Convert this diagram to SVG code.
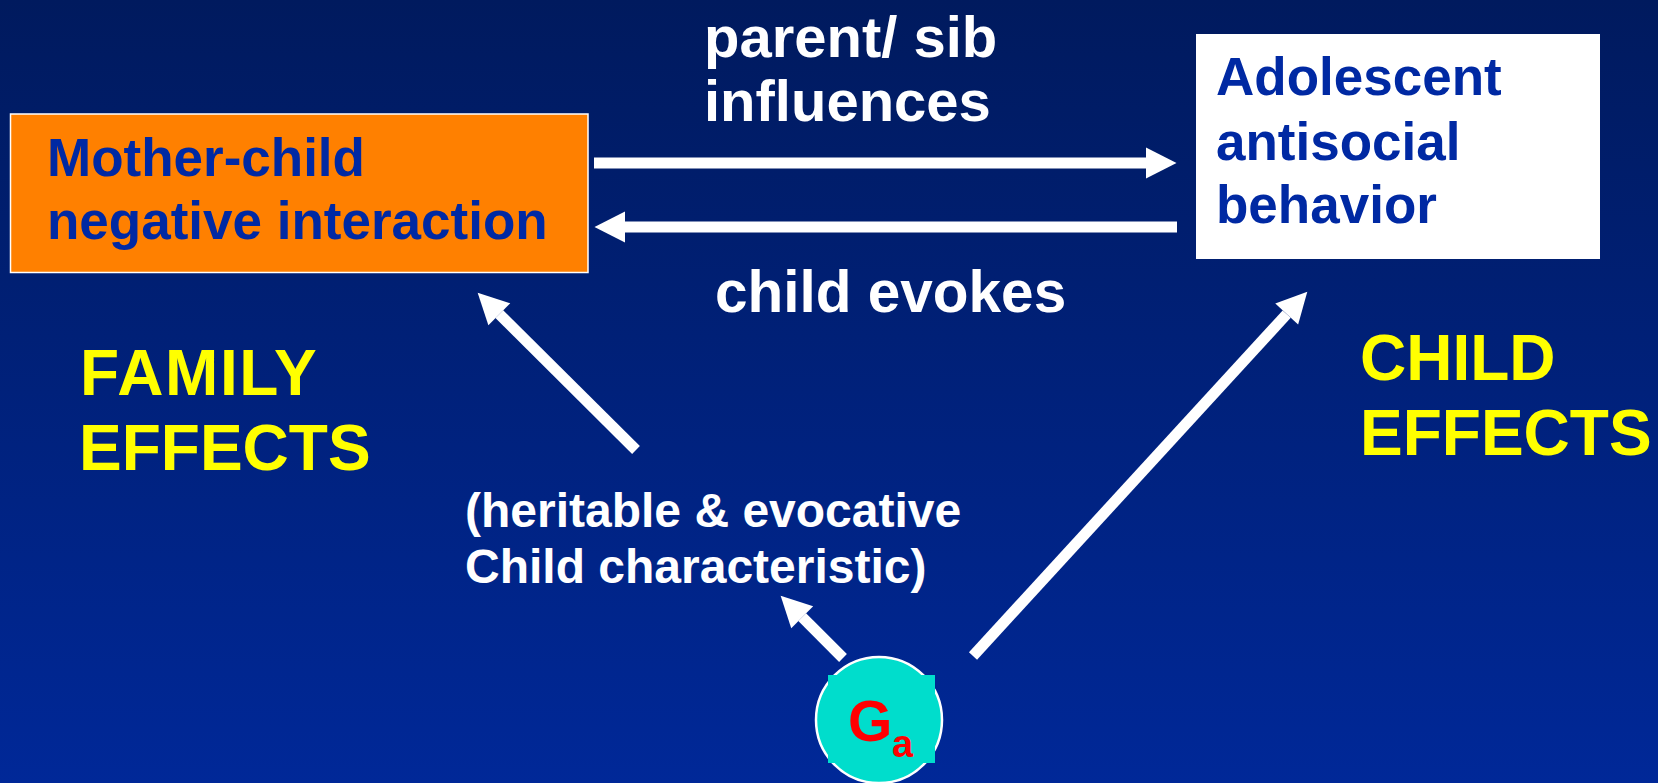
<svg xmlns="http://www.w3.org/2000/svg" width="1658" height="783" viewBox="0 0 1658 783">
  <defs>
    <linearGradient id="bg" x1="0" y1="0" x2="0" y2="1">
      <stop offset="0" stop-color="#001A5E"/>
      <stop offset="1" stop-color="#002898"/>
    </linearGradient>
    <marker id="head" viewBox="0 -16 31 32" refX="0" refY="0" markerWidth="31" markerHeight="32" markerUnits="userSpaceOnUse" orient="auto" overflow="visible">
      <path d="M0,-15.5 L30.5,0 L0,15.5 Z" fill="#FFFFFF"/>
    </marker>
    <style>
      .lbl { font-family: "Liberation Sans", Arial, sans-serif; font-weight: bold; }
      .box-text { fill: #0029A3; font-size: 53px; }
      .white { fill: #FFFFFF; }
      .yellow { fill: #FFFF00; font-size: 64px; }
      .conn { stroke: #FFFFFF; stroke-width: 11; fill: none; marker-end: url(#head); }
    </style>
  </defs>

  <!-- slide background -->
  <rect x="0" y="0" width="1658" height="783" fill="url(#bg)"/>

  <!-- connectors -->
  <g id="connectors">
    <!-- parent/sib influences: mother-child -> adolescent -->
    <line class="conn" x1="594" y1="163" x2="1146" y2="163"/>
    <!-- child evokes: adolescent -> mother-child -->
    <line class="conn" x1="1177" y1="227" x2="625" y2="227"/>
    <!-- heritable characteristic -> mother-child -->
    <line class="conn" stroke-width="10" x1="636" y1="450" x2="499.3" y2="314.2"/>
    <!-- Ga -> adolescent -->
    <line class="conn" stroke-width="10" x1="973" y1="656" x2="1286.7" y2="314.1"/>
    <!-- Ga -> heritable characteristic -->
    <line class="conn" x1="843" y1="658" x2="802.2" y2="617.2"/>
  </g>

  <!-- Mother-child negative interaction -->
  <g id="mother-child">
    <rect x="10.5" y="114" width="577.5" height="158.5" fill="#FF8000" stroke="#FFFFFF" stroke-width="1.5"/>
    <text class="lbl box-text" x="47" y="176">Mother-child</text>
    <text class="lbl box-text" x="47" y="239">negative interaction</text>
  </g>

  <!-- Adolescent antisocial behavior -->
  <g id="adolescent">
    <rect x="1196" y="34" width="404" height="225" fill="#FFFFFF"/>
    <text class="lbl box-text" x="1216" y="95">Adolescent</text>
    <text class="lbl box-text" x="1216" y="160">antisocial</text>
    <text class="lbl box-text" x="1216" y="223">behavior</text>
  </g>

  <!-- connector labels -->
  <g id="label-influences">
    <text class="lbl white" font-size="58" x="704" y="57">parent/ sib</text>
    <text class="lbl white" font-size="58" x="704" y="121">influences</text>
  </g>
  <g id="label-evokes">
    <text class="lbl white" font-size="58.5" x="715" y="312">child evokes</text>
  </g>

  <!-- effect captions -->
  <g id="family-effects">
    <text class="lbl yellow" x="80" y="395" letter-spacing="1.6">FAMILY</text>
    <text class="lbl yellow" x="79" y="470">EFFECTS</text>
  </g>
  <g id="child-effects">
    <text class="lbl yellow" x="1360" y="380">CHILD</text>
    <text class="lbl yellow" x="1360" y="455">EFFECTS</text>
  </g>

  <!-- heritable characteristic -->
  <g id="heritable">
    <text class="lbl white" font-size="48" x="465" y="527">(heritable &amp; evocative</text>
    <text class="lbl white" font-size="48" x="465" y="583">Child characteristic)</text>
  </g>

  <!-- genetic factor Ga -->
  <g id="ga">
    <circle cx="879" cy="720" r="63" fill="#00DDCC" stroke="#FFFFFF" stroke-width="2.5"/>
    <rect x="828" y="675" width="107" height="88" fill="#00DDCC"/>
    <text class="lbl" fill="#FF0000" font-size="57" x="848" y="741">G</text>
    <text class="lbl" fill="#FF0000" font-size="38" x="892" y="757">a</text>
  </g>
</svg>
